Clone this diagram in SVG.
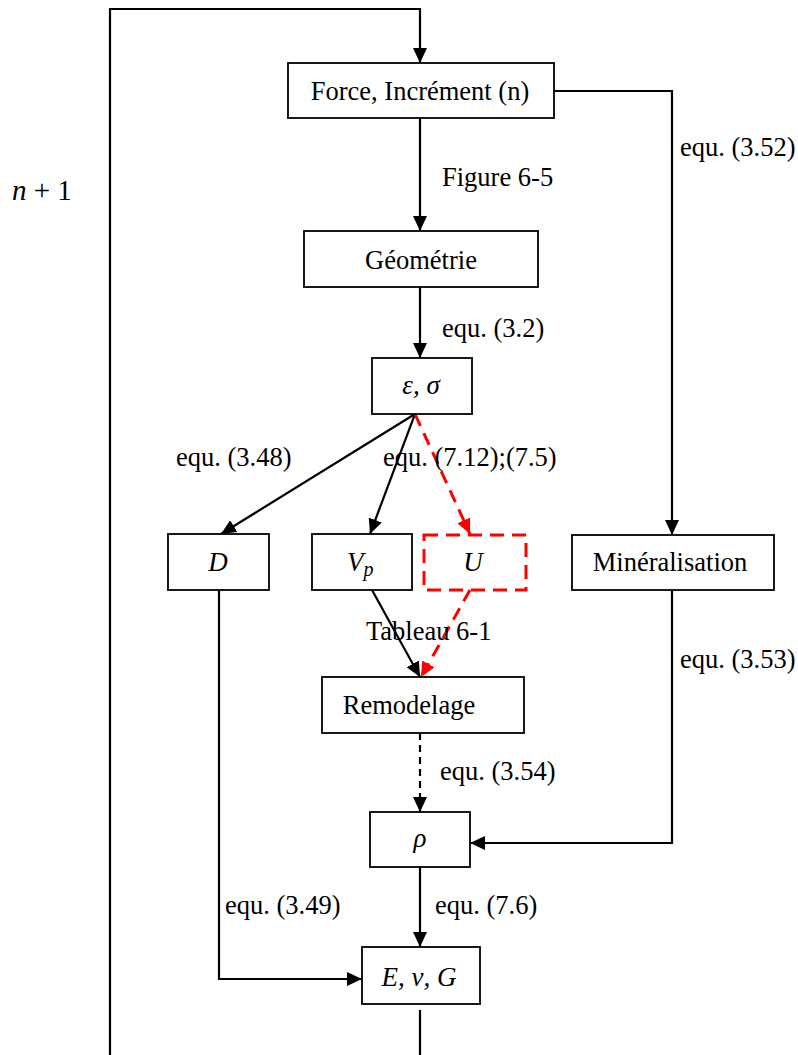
<svg xmlns="http://www.w3.org/2000/svg" width="798" height="1055" viewBox="0 0 798 1055">
<style>
.box{fill:#fff;stroke:#000;stroke-width:1.8}
.ubox{fill:none;stroke:#ff0000;stroke-width:3;stroke-dasharray:14,8}
.t{font-family:"Liberation Serif","Times New Roman",serif;font-size:26.5px;fill:#000}
.m{font-family:"Liberation Serif","Times New Roman",serif;font-size:27px;font-style:italic;fill:#000}
.c{fill:none;stroke:#000;stroke-width:2.2}
.d{fill:none;stroke:#000;stroke-width:2.2;stroke-dasharray:7,5}
.r{fill:none;stroke:#ff0000;stroke-width:3;stroke-dasharray:13,8}
</style>
<defs>
<marker id="a" markerUnits="userSpaceOnUse" markerWidth="16" markerHeight="14" refX="15" refY="7" orient="auto"><path d="M0,0 L15,7 L0,14 z" fill="#000"/></marker>
<marker id="ar" markerUnits="userSpaceOnUse" markerWidth="16" markerHeight="14" refX="15" refY="7" orient="auto"><path d="M0,0 L15,7 L0,14 z" fill="#ff0000"/></marker>
</defs>
<g id="connectors">
<path class="c" d="M110,1055 V9 H420 V63" marker-end="url(#a)"/>
<path class="c" d="M420,1010 V1055"/>
<path class="c" d="M554,91 H672 V535" marker-end="url(#a)"/>
<path class="c" d="M420,118 V231" marker-end="url(#a)"/>
<path class="c" d="M420,287 V358" marker-end="url(#a)"/>
<path class="c" d="M415,414 L221,534" marker-end="url(#a)"/>
<path class="c" d="M415,414 L370,534" marker-end="url(#a)"/>
<path class="r" d="M415,414 L470,534" marker-end="url(#ar)"/>
<path class="c" d="M372,590 L420,677" marker-end="url(#a)"/>
<path class="r" d="M470,590 L421,677" marker-end="url(#ar)"/>
<path class="d" d="M420,733 V812" marker-end="url(#a)"/>
<path class="c" d="M672,590 V843 H470" marker-end="url(#a)"/>
<path class="c" d="M219,590 V979 H362" marker-end="url(#a)"/>
<path class="c" d="M420,867 V947" marker-end="url(#a)"/>
</g>
<g id="labels">
<text class="t" x="680" y="156">equ. (3.52)</text>
<text class="t" x="442" y="186">Figure 6-5</text>
<text class="t" x="442" y="337">equ. (3.2)</text>
<text class="t" x="176" y="466">equ. (3.48)</text>
<text class="t" x="383" y="466">equ. (7.12);(7.5)</text>
<text class="t" x="366" y="640">Tableau 6-1</text>
<text class="t" x="680" y="668">equ. (3.53)</text>
<text class="t" x="440" y="780">equ. (3.54)</text>
<text class="t" x="225" y="914">equ. (3.49)</text>
<text class="t" x="435" y="914">equ. (7.6)</text>
<text class="t" x="12" y="200" style="font-size:29px"><tspan style="font-style:italic">n</tspan> + 1</text>
</g>
<g id="force"><rect class="box" x="288" y="63" width="266" height="55"/><text class="t" x="420" y="100" text-anchor="middle">Force, Incrément (n)</text></g>
<g id="geometrie"><rect class="box" x="304" y="231" width="234" height="56"/><text class="t" x="421" y="269" text-anchor="middle">Géométrie</text></g>
<g id="eps-sigma"><rect class="box" x="372" y="358" width="100" height="56"/><text class="m" x="421" y="394" text-anchor="middle">ε, σ</text></g>
<g id="D"><rect class="box" x="168" y="534" width="101" height="56"/><text class="m" x="218" y="571" text-anchor="middle">D</text></g>
<g id="Vp"><rect class="box" x="312" y="534" width="100" height="56"/><text class="m" x="347" y="571">V<tspan style="font-size:20px" dy="5">p</tspan></text></g>
<g id="U"><rect class="ubox" x="424" y="535" width="102" height="55"/><text class="m" x="473" y="571" text-anchor="middle">U</text></g>
<g id="mineralisation"><rect class="box" x="572" y="535" width="202" height="55"/><text class="t" x="670" y="571" text-anchor="middle">Minéralisation</text></g>
<g id="remodelage"><rect class="box" x="322" y="677" width="202" height="56"/><text class="t" x="409" y="714" text-anchor="middle">Remodelage</text></g>
<g id="rho"><rect class="box" x="370" y="812" width="100" height="55"/><text class="m" x="420" y="847" text-anchor="middle">ρ</text></g>
<g id="E-nu-G"><rect class="box" x="362" y="947" width="118" height="57"/><text class="m" x="419" y="986" text-anchor="middle">E, ν, G</text></g>
</svg>
